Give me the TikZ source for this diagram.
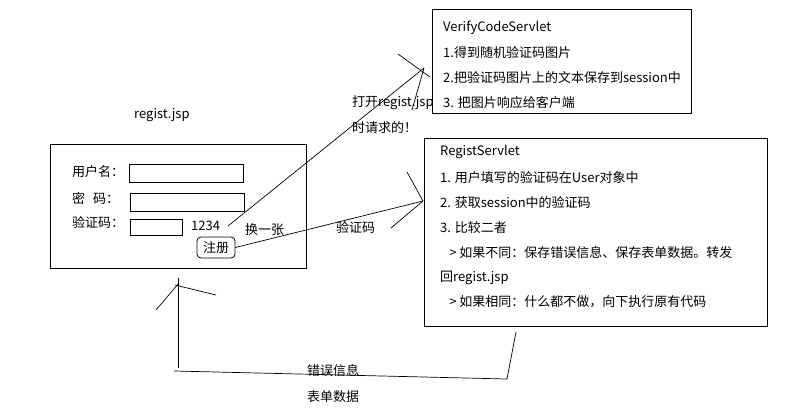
\documentclass[tikz,border=0pt]{standalone}
\usepackage{fontspec}
\setmainfont{Noto Sans CJK SC}
\begin{document}
\begin{tikzpicture}[x=1pt,y=-1pt,
  txt/.style={anchor=west,inner sep=0pt,font=\fontsize{13}{15}\selectfont},
  box/.style={draw,line width=0.8pt,anchor=north west,inner sep=0pt},
  ln/.style={line width=0.7pt}]
\useasboundingbox[fill=white] (0,0) rectangle (804,420);
% regist.jsp form
\node[txt] (title) at (134,115) {regist.jsp};
\node[box,minimum width=256pt,minimum height=124pt] (form) at (50,144) {};
\node[txt] (l1) at (72,172) {用户名：};
\node[txt] (l2) at (72,198) {密\hspace{0.6em}码：};
\node[txt] (l3) at (72,222) {验证码：};
\node[box,minimum width=114pt,minimum height=18pt] (f1) at (129,164) {};
\node[box,minimum width=114pt,minimum height=18pt] (f2) at (130,193) {};
\node[box,minimum width=52pt,minimum height=16pt] (f3) at (130,219) {};
\node[txt] (code) at (191,226) {1234};
\node[draw,line width=0.8pt,rounded corners=4pt,inner sep=0pt,minimum width=38pt,minimum height=21pt,font=\fontsize{13}{15}\selectfont] (reg) at (216,247.5) {注册};
\node[txt] (chg) at (245,230) {换一张};
% VerifyCodeServlet
\node[box,minimum width=259pt,minimum height=104pt] (vcs) at (432,9) {};
\node[txt] (v0) at (443,28) {VerifyCodeServlet};
\node[txt] (v1) at (443,53) {1.得到随机验证码图片};
\node[txt] (v2) at (443,78) {2.把验证码图片上的文本保存到session中};
\node[txt] (v3) at (443,103) {3. 把图片响应给客户端};
\node[txt] (o1) at (352,103) {打开regist.jsp};
\node[txt] (o2) at (352,128) {时请求的！};
% RegistServlet
\node[box,minimum width=343pt,minimum height=188pt] (rs) at (424,138) {};
\node[txt] (r0) at (440,152) {RegistServlet};
\node[txt] (r1) at (440,178) {1. 用户填写的验证码在User对象中};
\node[txt] (r2) at (440,203) {2. 获取session中的验证码};
\node[txt] (r3) at (440,228) {3. 比较二者};
\node[txt] (r4) at (440,253) {\hspace{0.7em}> 如果不同：保存错误信息、保存表单数据。转发};
\node[txt] (r5) at (440,278) {回regist.jsp};
\node[txt] (r6) at (440,302) {\hspace{0.7em}> 如果相同：什么都不做，向下执行原有代码};
\node[txt] (vc) at (336,227) {验证码};
\node[txt] (e1) at (307,371) {错误信息};
\node[txt] (e2) at (307,397) {表单数据};
% arrow 1234 -> VerifyCodeServlet
\coordinate (a1) at (424,68);
\coordinate (a1p) at (398,54);
\coordinate (a1q) at (430,77);
\coordinate (a1r) at (412,110);
\draw[ln] (228,226) -- (a1);
\draw[ln] (a1p) -- (a1q);
\draw[ln] (a1) -- (a1r);
% arrow 注册 -> RegistServlet
\coordinate (a2) at (423,201);
\coordinate (a2p) at (407,172);
\coordinate (a2q) at (391,228);
\draw[ln] (reg.east) -- (a2);
\draw[ln] (a2p) -- (a2) -- (a2q);
% return arrow
\coordinate (b0) at (516,332);
\coordinate (b1) at (507,379);
\coordinate (b2) at (174,371);
\coordinate (b3) at (178,368);
\coordinate (b4) at (178,278);
\coordinate (b5) at (156,310);
\coordinate (b6) at (179,283);
\coordinate (b7) at (216,295);
\draw[ln] (b0) -- (b1) -- (b2);
\draw[ln] (b3) -- (b4);
\draw[ln] (b5) -- (b6);
\draw[ln] (175,285) -- (b7);
\end{tikzpicture}
\end{document}
